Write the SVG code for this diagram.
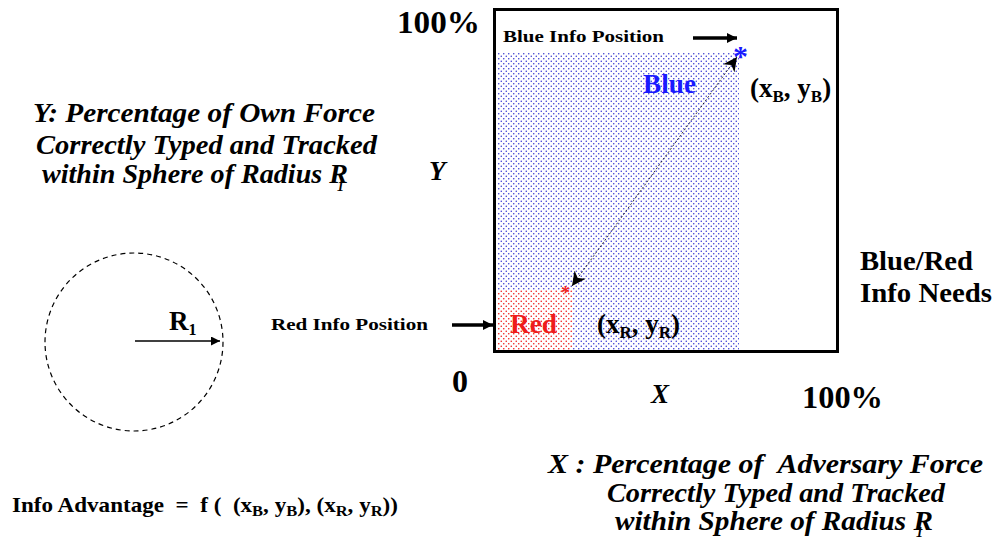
<svg xmlns="http://www.w3.org/2000/svg" width="1000" height="541" viewBox="0 0 1000 541" font-family="'Liberation Serif', 'Times New Roman', 'DejaVu Serif', serif">
<style>
text{font-family:'Liberation Serif','Times New Roman','DejaVu Serif',serif;font-weight:bold;fill:#000}
.it{font-style:italic}
.big{font-size:32px}
.lbl{font-size:27px}
.sm{font-size:17px}
.sub{font-size:17px}
.fs{font-size:15px}
</style>
<defs>
<pattern id="pb" width="5" height="5" patternUnits="userSpaceOnUse">
<rect width="5" height="5" fill="#fff"/>
<circle cx="1.25" cy="1.25" r="0.75" fill="#3030d0"/>
<circle cx="3.75" cy="3.75" r="0.75" fill="#3030d0"/>
</pattern>
<pattern id="pr" width="5" height="5" patternUnits="userSpaceOnUse">
<rect width="5" height="5" fill="#fff"/>
<circle cx="1.25" cy="1.25" r="0.8" fill="#ee1c1c"/>
<circle cx="3.75" cy="3.75" r="0.8" fill="#ee1c1c"/>
</pattern>
<marker id="ah" viewBox="0 0 10 10" refX="10" refY="5" markerWidth="10" markerHeight="10" markerUnits="userSpaceOnUse" orient="auto">
<path d="M0,0 L10,5 L0,10 z" fill="#000"/>
</marker>
<marker id="ahs" viewBox="0 0 10 10" refX="10" refY="5" markerWidth="14" markerHeight="14" markerUnits="userSpaceOnUse" orient="auto-start-reverse">
<path d="M0,0 L10,5 L0,10 L3,5 z" fill="#000"/>
</marker>
<marker id="ahb" viewBox="0 0 10 10" refX="10" refY="5" markerWidth="6" markerHeight="6" orient="auto">
<path d="M0,0 L10,5 L0,10 z" fill="#000"/>
</marker>
</defs>

<g id="chart">
<rect x="497" y="52" width="242" height="298" fill="url(#pb)"/>
<rect x="497" y="290" width="76" height="60" fill="url(#pr)"/>
<rect x="494.5" y="9.5" width="343" height="342" fill="none" stroke="#000" stroke-width="3"/>
</g>

<g id="blue-point">
<text x="733" y="66" style="font-size:30px;fill:#1a1aff">*</text>
<text x="643" y="93" class="lbl" style="fill:#1a1aff" textLength="53" lengthAdjust="spacingAndGlyphs">Blue</text>
<text x="750" y="97" class="lbl">(x<tspan class="sub" dy="5">B</tspan><tspan dy="-5">, y</tspan><tspan class="sub" dy="5">B</tspan><tspan dy="-5">)</tspan></text>
</g>

<g id="red-point">
<text x="561" y="299" style="font-size:18px;fill:#ee1c1c">*</text>
<text x="510" y="333" class="lbl" style="fill:#ee1c1c" textLength="47" lengthAdjust="spacingAndGlyphs">Red</text>
<text x="597" y="333" class="lbl">(x<tspan class="sub" dy="5">R</tspan><tspan dy="-5">, y</tspan><tspan class="sub" dy="5">R</tspan><tspan dy="-5">)</tspan></text>
</g>

<g id="blue-info-label">
<text x="503" y="42" class="sm" textLength="161" lengthAdjust="spacingAndGlyphs">Blue Info Position</text>
</g>
<g id="red-info-label">
<text x="271" y="330" class="sm" textLength="157" lengthAdjust="spacingAndGlyphs">Red Info Position</text>
</g>

<g id="axis-labels">
<text x="397" y="33" class="big" textLength="83" lengthAdjust="spacingAndGlyphs">100%</text>
<text x="452" y="392" class="big">0</text>
<text x="802" y="408" class="big" textLength="81" lengthAdjust="spacingAndGlyphs">100%</text>
<text x="429" y="180" class="lbl it">Y</text>
<text x="651" y="403" class="lbl it">X</text>
</g>

<g id="needs-label">
<text x="860" y="270" class="lbl" textLength="113" lengthAdjust="spacingAndGlyphs">Blue/Red</text>
<text x="860" y="302" class="lbl" textLength="132" lengthAdjust="spacingAndGlyphs">Info Needs</text>
</g>

<g id="y-title">
<text x="33" y="122" class="lbl it" textLength="342" lengthAdjust="spacingAndGlyphs">Y: Percentage of Own Force</text>
<text x="36" y="154" class="lbl it" textLength="341" lengthAdjust="spacingAndGlyphs">Correctly Typed and Tracked</text>
<text x="42" y="183" class="lbl it" textLength="306" lengthAdjust="spacingAndGlyphs">within Sphere of Radius R</text>
<text x="337" y="191" class="it" style="font-size:14px">1</text>
</g>

<g id="x-title">
<text x="548" y="473" class="lbl it" xml:space="preserve" textLength="435" lengthAdjust="spacingAndGlyphs">X : Percentage of  Adversary Force</text>
<text x="607" y="502" class="lbl it" textLength="338" lengthAdjust="spacingAndGlyphs">Correctly Typed and Tracked</text>
<text x="615" y="530" class="lbl it" textLength="318" lengthAdjust="spacingAndGlyphs">within Sphere of Radius R</text>
<text x="916" y="537" class="it" style="font-size:14px">1</text>
</g>

<g id="sphere">
<circle cx="134" cy="342" r="89" fill="none" stroke="#000" stroke-width="1.2" stroke-dasharray="5,4"/>
<text x="169" y="330" class="lbl">R<tspan style="font-size:16px" dy="5">1</tspan></text>
</g>

<g id="formula">
<text x="12" y="512" style="font-size:21px" xml:space="preserve" textLength="386" lengthAdjust="spacingAndGlyphs">Info Advantage  =  f (  (x<tspan class="fs" dy="4">B</tspan><tspan dy="-4">, y</tspan><tspan class="fs" dy="4">B</tspan><tspan dy="-4">), (x</tspan><tspan class="fs" dy="4">R</tspan><tspan dy="-4">, y</tspan><tspan class="fs" dy="4">R</tspan><tspan dy="-4">))</tspan></text>
</g>

<g id="connectors" fill="none" stroke="#000">
<line x1="693" y1="38" x2="737" y2="38" stroke-width="3.5" marker-end="url(#ah)"/>
<line x1="452" y1="325" x2="493" y2="325" stroke-width="3.5" marker-end="url(#ah)"/>
<line x1="135" y1="341" x2="220" y2="341" stroke-width="1.5" marker-end="url(#ahb)"/>
<line x1="572" y1="286" x2="737" y2="57" stroke-width="0.8" stroke-dasharray="2,2" marker-start="url(#ahs)" marker-end="url(#ahs)"/>
</g>
</svg>
